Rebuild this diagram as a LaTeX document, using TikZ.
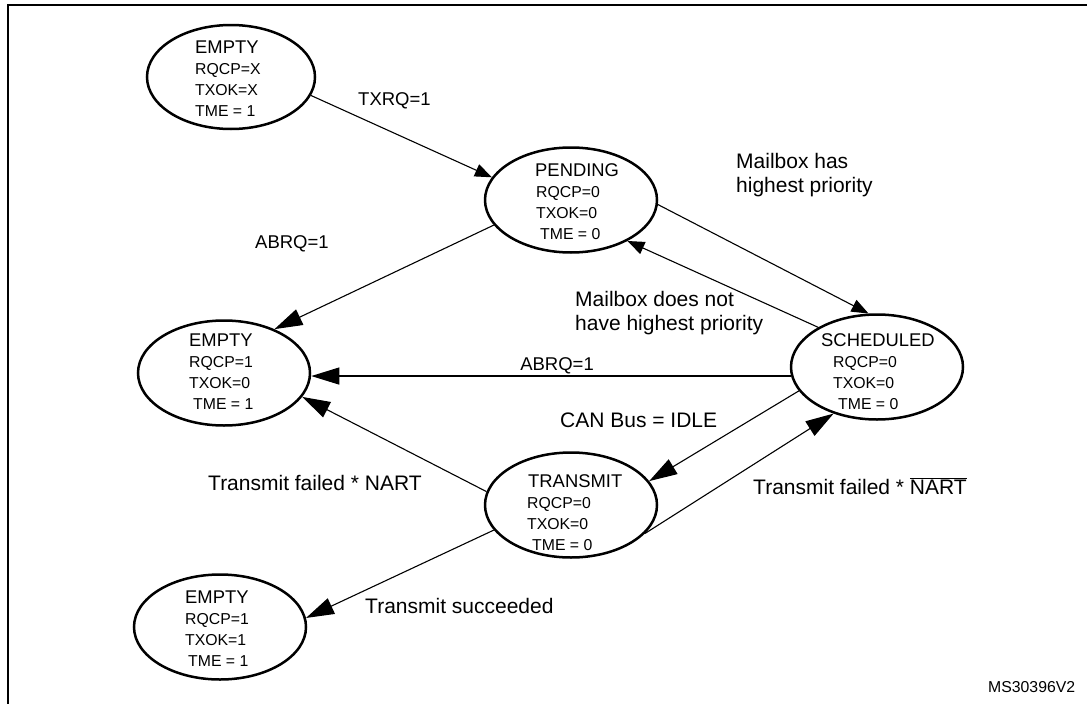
\documentclass[tikz,border=0pt]{standalone}
\usepackage{fontspec}
\setmainfont{Liberation Sans}
\usetikzlibrary{arrows.meta,shapes.geometric}
\newcommand{\statetext}[9]{%
  \node[ttl,anchor=base west] (#1t) at (#2,#5) {#6};
  \node[val,anchor=base west] (#1r) at (#3,#5+21) {#7};
  \node[val,anchor=base west] (#1x) at (#3,#5+42) {#8};
  \node[val,anchor=base west] (#1m) at (#4,#5+63) {#9};
}
\begin{document}
\begin{tikzpicture}[x=1pt,y=-1pt,
  state/.style={ellipse,draw,line width=2.5pt,minimum width=172pt,minimum height=105pt,inner sep=0pt},
  ttl/.style={inner sep=0pt,font=\fontsize{18.4}{21}\selectfont},
  val/.style={inner sep=0pt,font=\fontsize{15.8}{19}\selectfont},
  lab/.style={inner sep=0pt,font=\fontsize{21}{24}\selectfont},
  slab/.style={inner sep=0pt,font=\fontsize{18.5}{22}\selectfont},
  con/.style={line width=1.1pt},
  bigarr/.style={con,-{Triangle[length=28pt,width=17pt]}},
  smallarr/.style={con,-{Triangle[length=17pt,width=13pt]}}]
\fill[white] (0,0) rectangle (1087,704);
\useasboundingbox (0,0) rectangle (1087,704);
\draw[line width=2.5pt] (1090,5) -- (8,5) -- (8,710);

% states
\node[state,minimum width=168pt,minimum height=104pt] (e1) at (231,77) {};
\node[state] (pend) at (571,200) {};
\node[state] (sched) at (877,367) {};
\node[state] (me) at (224,373) {};
\node[state] (trans) at (571,505) {};
\node[state] (e3) at (220,627) {};

\statetext{e1}{195}{195}{195}{53}{EMPTY}{RQCP=X}{TXOK=X}{TME = 1}
\statetext{pe}{535}{536}{540}{176}{PENDING}{RQCP=0}{TXOK=0}{TME = 0}
\statetext{sc}{821}{833}{838}{346}{SCHEDULED}{RQCP=0}{TXOK=0}{TME = 0}
\statetext{me}{189}{189}{193}{346}{EMPTY}{RQCP=1}{TXOK=0}{TME = 1}
\statetext{tr}{528}{527}{532}{487}{TRANSMIT}{RQCP=0}{TXOK=0}{TME = 0}
\statetext{ee}{185}{185}{188}{603}{EMPTY}{RQCP=1}{TXOK=1}{TME = 1}

% connectors
\draw[smallarr] (e1.-13.6) -- (pend.164.8);
\draw[bigarr] (pend.198) -- (me.41.4);
\draw[smallarr] (pend.-3.3) -- (sched.99.8);
\draw[smallarr] (sched.146.5) -- (pend.-36.1);
\draw[bigarr] (sched.186) -- (sched.186 -| me.east);
\draw[bigarr] (sched.197) -- (trans.17.6);
\draw[bigarr] (trans.171.2) -- (me.-17.5);
\draw[bigarr] (trans.-21.7) -- (sched.227.3);
\draw[bigarr] (trans.198.2) -- (e3.6.5);

% labels
\node[slab,anchor=base west] (l1) at (358,105) {TXRQ=1};
\node[slab,anchor=base west] (l2) at (255,248) {ABRQ=1};
\node[lab,anchor=base west] (l3a) at (736,168) {Mailbox has};
\node[lab,anchor=base west] (l3b) at (736,192) {highest priority};
\node[lab,anchor=base west] (l4a) at (575,306) {Mailbox does not};
\node[lab,anchor=base west] (l4b) at (575,330) {have highest priority};
\node[slab,anchor=base east] (l5) at (594,370) {ABRQ=1};
\node[lab,anchor=base west] (l6) at (560,427) {CAN Bus = IDLE};
\node[lab,anchor=base west] (l7) at (208,490) {Transmit failed * NART};
\node[lab,anchor=base west] (l8) at (753,494) {Transmit failed * \(\overline{\hbox{NART}}\)};
\node[lab,anchor=base west] (l9) at (365,613) {Transmit succeeded};
\node[val,anchor=base west] (ms) at (988,692) {MS30396V2};
\end{tikzpicture}
\end{document}
